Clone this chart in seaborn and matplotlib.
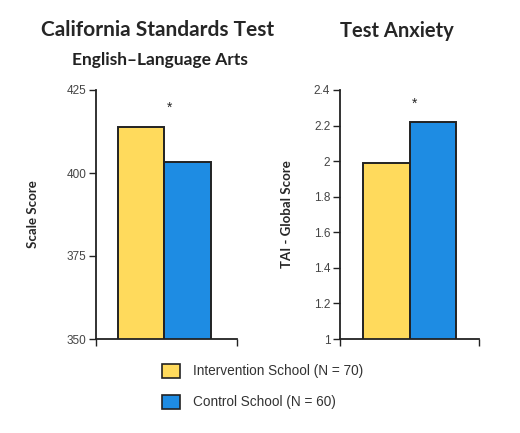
import pandas as pd
import matplotlib
matplotlib.use("Agg")
import matplotlib.pyplot as plt
from matplotlib.patches import Patch
import seaborn as sns

# Data
groups = ["Intervention School (N = 70)", "Control School (N = 60)"]
cst_scores = [413.8, 403.3]
tai_scores = [1.99, 2.22]
colors = ["#FFDA5C", "#1E8CE3"]

cst_ticks = [350, 375, 400, 425]
tai_ticks = [1, 1.2, 1.4, 1.6, 1.8, 2, 2.2, 2.4]
tai_labels = ["1", "1.2", "1.4", "1.6", "1.8", "2", "2.2", "2.4"]

df_cst = pd.DataFrame({"group": groups, "score": cst_scores})
df_tai = pd.DataFrame({"group": groups, "score": tai_scores})

sns.set_style("white")
plt.rcParams["font.family"] = ["Liberation Sans", "DejaVu Sans"]

fig = plt.figure(figsize=(5.2, 4.33), dpi=100)
ax1 = fig.add_axes([96 / 520, 1 - 339 / 433, 141 / 520, 249 / 433])
ax2 = fig.add_axes([340 / 520, 1 - 339 / 433, 139 / 520, 249 / 433])


def draw(ax, df, ticks, labels, ylim, xlim, ylabel, label_x, star_y):
    sns.barplot(data=df, x="group", y="score", hue="group", palette=colors,
                width=1.0, dodge=False, legend=False, ax=ax, saturation=1,
                edgecolor="#222222", linewidth=1.4)
    ax.set_ylim(*ylim)
    ax.set_xlim(*xlim)
    ax.set_yticks(ticks)
    ax.set_yticklabels(labels, fontsize=8.5, color="#444444")
    ax.set_xticks(list(xlim))
    ax.set_xticklabels(["", ""])
    ax.tick_params(axis="both", direction="out", length=5, width=1,
                   color="#222222", left=True, bottom=True, pad=2)
    for side in ["top", "right"]:
        ax.spines[side].set_visible(False)
    for side in ["left", "bottom"]:
        ax.spines[side].set_color("#222222")
        ax.spines[side].set_linewidth(1.3)
    ax.set_xlabel("")
    ax.set_ylabel(ylabel, fontsize=9.5, fontweight="bold", family="Lato", va="center")
    ax.yaxis.set_label_coords(label_x, 0.5)
    ax.text(0.6, star_y, "*", ha="center", va="center", fontsize=10)


draw(ax1, df_cst, cst_ticks, [str(t) for t in cst_ticks], (350, 425),
     (-0.97, 2.06), "Scale Score", -0.45, 419.5)
draw(ax2, df_tai, tai_ticks, tai_labels, (1, 2.4),
     (-0.99, 1.99), "TAI - Global Score", -0.38, 2.32)

fig.text(158 / 520, 1 - 30 / 433, "California Standards Test", ha="center", va="center",
         fontsize=15, fontweight="bold", family="Lato")
fig.text(160 / 520, 1 - 60 / 433, "English\u2013Language Arts", ha="center", va="center",
         fontsize=12.5, fontweight="bold", family="Lato", color="#222222")
fig.text(397 / 520, 1 - 31 / 433, "Test Anxiety", ha="center", va="center",
         fontsize=14.5, fontweight="bold", family="Lato")

handles = [Patch(facecolor=c, edgecolor="#222222", linewidth=1.2) for c in colors]
fig.legend(handles, groups, loc="upper left", bbox_to_anchor=(155 / 520, 1 - 357 / 433),
           frameon=False, fontsize=9.8, handlelength=1.3, handleheight=1.2,
           handletextpad=1.0, labelspacing=1.2, borderpad=0, labelcolor="#333333")

fig.savefig("out.png", dpi=100)
